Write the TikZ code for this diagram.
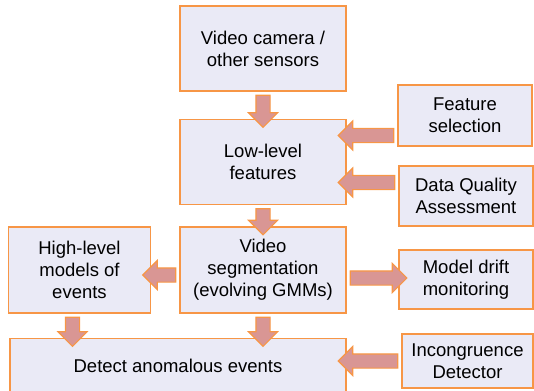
\documentclass[tikz,border=0pt]{standalone}
\usepackage{fontspec}
\setmainfont{Liberation Sans}
\usetikzlibrary{positioning,calc,shapes.arrows}
\definecolor{boxfill}{RGB}{234,234,246}
\definecolor{boxline}{RGB}{247,150,70}
\definecolor{arrfill}{RGB}{217,150,148}
\newcommand{\blkarrow}[2]{%
  \path let \p1=(#1), \p2=(#2), \n1={atan2(\y2-\y1,\x2-\x1)},
    \n2={veclen(\x2-\x1,\y2-\y1)+5pt} in
    node[fatarr, minimum height=\n2, rotate=\n1] at ($(\p1)+(\n1:\n2/2)$) {};}

\begin{document}
\begin{tikzpicture}[x=1pt, y=-1pt,
  box/.style={draw=boxline, fill=boxfill, line width=1.5pt, align=center,
              inner sep=2pt, font=\fontsize{18.5}{22}\selectfont},
  fatarr/.style={shape=single arrow, draw=boxline, fill=arrfill, line width=1.1pt,
              inner xsep=0pt, inner ysep=6.5pt, text height=0pt, text depth=0pt,
              minimum width=0pt, single arrow head extend=7.5pt,
              single arrow tip angle=90, single arrow head indent=0pt}
]
\useasboundingbox (0,0) rectangle (534,390);

\node[box, minimum width=166pt, minimum height=85pt] (video) at (263,48.5) {Video camera /\\other sensors};
\node[box, minimum width=166pt, minimum height=85pt, below=27pt of video] (low) {Low-level\\features};
\node[box, minimum width=166pt, minimum height=86pt, below=21pt of low] (seg) {Video\\segmentation\\(evolving GMMs)};
\node[box, minimum width=142pt, minimum height=86pt, left=28pt of seg] (high) {High-level\\models of\\events};
\node[box, minimum width=336pt, minimum height=54pt, below=24pt of seg.south east, anchor=north east] (detect) {Detect anomalous events};

\node[box, minimum width=134pt, minimum height=61pt] (fsel) at (465,115.5) {Feature\\selection};
\node[box, minimum width=134pt, minimum height=60pt] (dqa) at (466,196) {Data Quality\\Assessment};
\node[box, minimum width=134pt, minimum height=59pt] (drift) at (466,279.5) {Model drift\\monitoring};
\node[box, minimum width=131pt, minimum height=54pt] (incong) at (467.5,361) {Incongruence\\Detector};

\coordinate (f1) at ([yshift=26.5pt]low.east);
\coordinate (f2) at ([yshift=-20.5pt]low.east);
\coordinate (s1) at ([yshift=-5pt]seg.west);
\coordinate (s2) at ([yshift=-8pt]seg.east);
\coordinate (h1) at ([xshift=-7pt]high.south);

\blkarrow{video.south}{low.north}
\blkarrow{fsel.west |- f1}{f1}
\blkarrow{dqa.west |- f2}{f2}
\blkarrow{low.south}{seg.north}
\blkarrow{s1}{high.east |- s1}
\blkarrow{s2}{drift.west |- s2}
\blkarrow{h1}{detect.north -| h1}
\blkarrow{seg.south}{detect.north -| seg.south}
\blkarrow{incong.west}{detect.east |- incong.west}
\end{tikzpicture}
\end{document}
